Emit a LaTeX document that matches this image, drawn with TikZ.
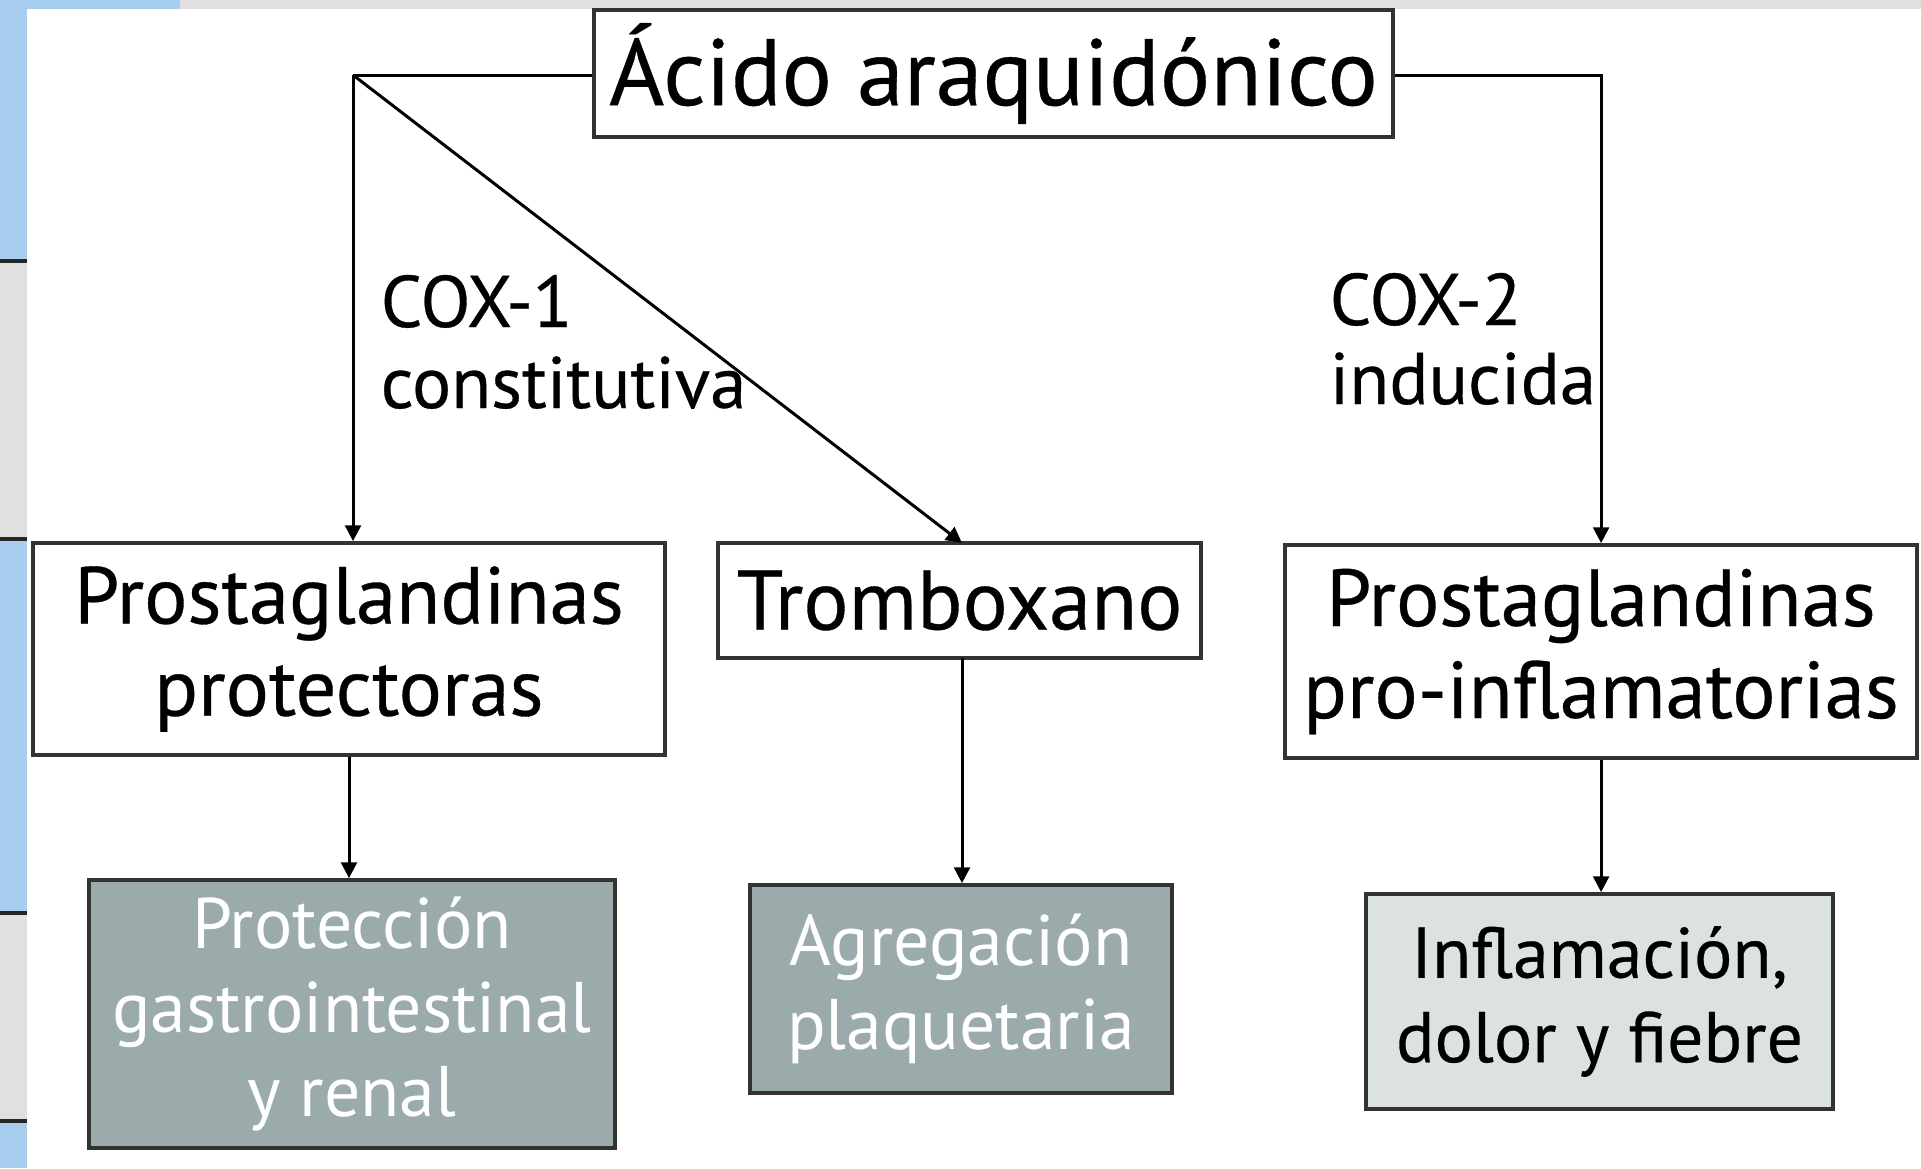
\documentclass[tikz,border=0pt]{standalone}
\usepackage{fontspec}
\setmainfont{PT Sans}
\newfontfamily\inkfont[FakeBold=0.4]{PT Sans}
\usetikzlibrary{arrows.meta}

\definecolor{stripblue}{HTML}{A9CDEF}
\definecolor{paper}{HTML}{E0E0E0}
\definecolor{boxdark}{HTML}{9BAAAA}
\definecolor{boxpale}{HTML}{DCE1E1}

\begin{document}
\begin{tikzpicture}[scale=0.1]
			\tikzstyle{every node}+=[inner sep=0pt]
			\tikzstyle{box}=[draw=black!80, line width=1.1pt, align=center, font=\inkfont\fontsize{23}{26.2}\selectfont]
			\tikzstyle{darkbox}=[box, fill=boxdark, text=white, font=\normalfont\fontsize{20.4}{24}\selectfont]
			\tikzstyle{palebox}=[box, fill=boxpale, font=\inkfont\fontsize{20.4}{24}\selectfont]
			\tikzstyle{enzyme}=[anchor=base west, font=\inkfont\fontsize{20.8}{23}\selectfont]
			\tikzstyle{arr}=[-{Triangle[length=4.5pt,width=4.5pt]}, line width=0.85pt]
			\useasboundingbox (0,0) rectangle (192.1,-116.8);
			% background of the screenshot
			\fill [white] (0,0) rectangle (192.1,-116.8);
			\fill [paper] (0,0) rectangle (192.1,-0.9);
			\fill [stripblue] (0,0) rectangle (2.7,-116.8);
			\fill [stripblue] (2.7,0) rectangle (18,-0.9);
			\fill [paper] (0,-26.1) rectangle (2.7,-53.9);
			\fill [paper] (0,-91.3) rectangle (2.7,-112.1);
			\foreach \y in {-26.1,-53.9,-91.3,-112.1}
				\draw [black!85, line width=1pt] (0,\y) -- (2.7,\y);
			% nodes
			\node [box, minimum width=7.99cm, minimum height=1.27cm, font=\inkfont\fontsize{26.8}{30}\selectfont] (acido) at (99.35,-7.35) {Ácido araquidónico};
			\node [box, minimum width=6.32cm, minimum height=2.12cm] (pgprot) at (34.9,-64.9) {Prostaglandinas\\protectoras};
			\node [box, minimum width=4.83cm, minimum height=1.15cm, font=\inkfont\fontsize{24}{26.2}\selectfont] (tromb) at (95.95,-60.05) {Tromboxano};
			\node [box, minimum width=6.32cm, minimum height=2.13cm] (pginfl) at (160.1,-65.15) {Prostaglandinas\\pro-inflamatorias};
			\node [darkbox, minimum width=5.26cm, minimum height=2.68cm] (gastro) at (35.2,-101.4) {Protección\\gastrointestinal\\y renal};
			\node [darkbox, minimum width=4.22cm, minimum height=2.08cm] (plaq) at (96.1,-98.9) {Agregación\\plaquetaria};
			\node [palebox, minimum width=4.67cm, minimum height=2.15cm] (fiebre) at (159.95,-100.15) {Inflamación,\\dolor y fiebre};
			\node [enzyme] (cox1) at (38,-32.7) {COX-1};
			\node [enzyme] (const) at (38,-40.8) {constitutiva};
			\node [enzyme] (cox2) at (132.9,-32.5) {COX-2};
			\node [enzyme] (induc) at (132.9,-40.4) {inducida};
			\coordinate (split) at (35.3,-7.5);
			% connectors
			\draw [line width=0.85pt] (acido.west |- split) -- (split);
			\draw [arr] (split) -- (split |- pgprot.north);
			\draw [arr] (split) -- (96.2,-54.3);
			\draw [arr] (acido.east |- split) -| (pginfl.north);
			\draw [arr] (pgprot.south) -- (pgprot.south |- gastro.north);
			\draw [arr] (96.2,-65.8) -- (plaq.north -| 96.2,0);
			\draw [arr] (pginfl.south) -- (pginfl.south |- fiebre.north);
\end{tikzpicture}
\end{document}
